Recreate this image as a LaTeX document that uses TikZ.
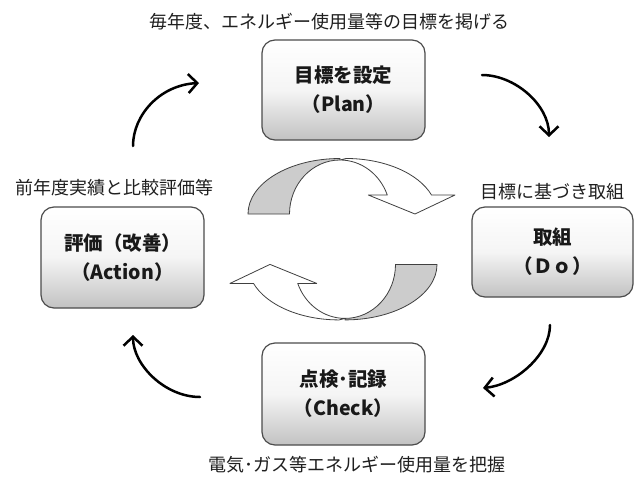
\documentclass[tikz,border=0pt]{standalone}
\usepackage{fontspec}
\setmainfont{Noto Sans CJK JP}
\usetikzlibrary{arrows.meta}
\tikzset{
  stagebox/.style={draw=black!70, line width=1.2pt, rounded corners=13pt,
    top color=white, bottom color=black!24, middle color=black!4,
    align=center, inner sep=0pt, text=black!90,
    font=\fontsize{19.5pt}{29pt}\selectfont\bfseries},
  notelabel/.style={inner sep=0pt, text=black!88, font=\fontsize{18pt}{20pt}\selectfont},
  flow/.style={line width=2.5pt, line cap=round, -{Straight Barb[length=9pt,width=19pt]}},
  cycgray/.style={fill=black!20, draw=black!75, line width=0.8pt, line join=round},
  cycwhite/.style={fill=white, draw=black!75, line width=0.8pt, line join=round}
}
\newcommand\cycshape{%
  \filldraw[cycgray] (248,214) arc[start angle=180,end angle=270,x radius=92,y radius=55.5]
    -- (340,160) arc[start angle=270,end angle=180,x radius=50.5,y radius=54] -- cycle;
  \filldraw[cycwhite] (340,160) arc[start angle=270,end angle=339.4,x radius=50.5,y radius=54]
    -- (368.3,195) -- (415,214) -- (455,195) -- (431.5,195)
    arc[start angle=340,end angle=270,x radius=91,y radius=55.5] -- cycle;
}
\begin{document}
\begin{tikzpicture}[x=1pt,y=-1pt]
\useasboundingbox (0,0) rectangle (635,477);
\fill[white] (0,0) rectangle (635,477);

% central cycle arrows
\begin{scope}\cycshape\end{scope}
\begin{scope}[rotate around={180:(342.5,239.2)}]\cycshape\end{scope}

% stage boxes
\node[stagebox, minimum width=163pt, minimum height=100pt] (plan) at (343.5,90) {目標を設定\\（Plan）};
\node[stagebox, minimum width=161pt, minimum height=90pt] (do) at (552.5,252) {取組\\（Ｄｏ）};
\node[stagebox, minimum width=163pt, minimum height=102pt] (check) at (343.5,394) {点検･記録\\（Check）};
\node[stagebox, minimum width=163pt, minimum height=101pt] (act) at (122.5,257.5) {評価（改善）\\（Action）};

% labels
\node[notelabel] (lplan) at (329,22) {毎年度、エネルギー使用量等の目標を掲げる};
\node[notelabel] (ldo) at (552,192) {目標に基づき取組};
\node[notelabel] (lcheck) at (357,465) {電気･ガス等エネルギー使用量を把握};
\node[notelabel] (lact) at (115,188) {前年度実績と比較評価等};

% connector ends
\coordinate (a1s) at (133,146); \coordinate (a1e) at (199,83);
\coordinate (a2s) at (482,75);  \coordinate (a2e) at (549,137);
\coordinate (a3s) at (550,325); \coordinate (a3e) at (483,388);
\coordinate (a4s) at (200,397); \coordinate (a4e) at (133,335);

\draw[flow] (a1s) .. controls (133,115) and (160,85) .. (a1e);
\draw[flow] (a2s) .. controls (515,75) and (549,105) .. (a2e);
\draw[flow] (a3s) .. controls (550,355) and (515,385) .. (a3e);
\draw[flow] (a4s) .. controls (165,397) and (133,365) .. (a4e);
\end{tikzpicture}
\end{document}
